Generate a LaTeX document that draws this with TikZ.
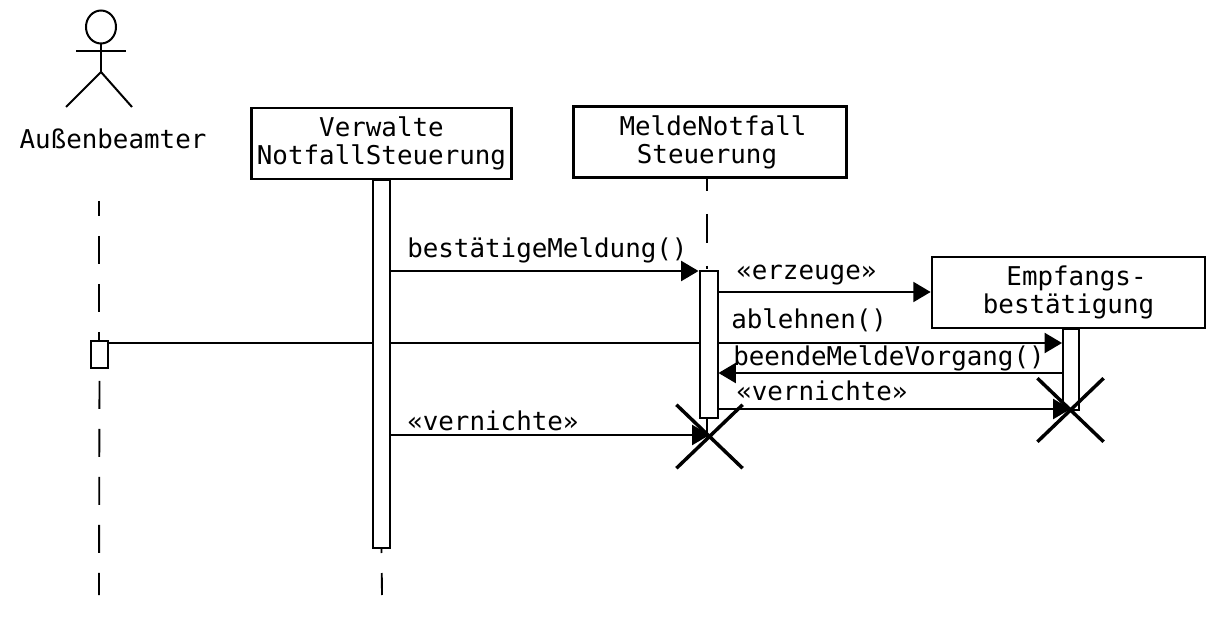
\documentclass[tikz,border=0pt]{standalone}
\usepackage{fontspec}
\setmonofont{DejaVu Sans Mono}
\usetikzlibrary{arrows.meta,shapes.misc}
\tikzset{
  objbox/.style={draw,line width=1.8pt,fill=white,align=center,inner sep=0pt,font=\ttfamily\fontsize{19.4}{21}\selectfont},
  actbar/.style={draw,line width=1.5pt,fill=white,inner sep=0pt},
  msglabel/.style={anchor=west,inner sep=0pt,font=\ttfamily\fontsize{19.4}{21}\selectfont},
  msgline/.style={line width=1.5pt,-{Triangle[length=13pt,width=15pt]}},
  plainline/.style={line width=1.2pt},
  stick/.style={line width=1.5pt},
  lifeline/.style={line width=1.4pt,dash pattern=on 21pt off 15pt},
  destroyed/.style={draw,cross out,line width=2.6pt,inner sep=0pt,minimum width=47pt,minimum height=45pt},
}
\begin{document}
\begin{tikzpicture}[x=0.75pt,y=0.75pt,yscale=-1,xscale=1]
\useasboundingbox (0,0) rectangle (1214,620);

% actor
\draw [stick] (101,27) ellipse (15 and 16.5);
\draw [stick] (76,51) -- (126,51);
\draw [stick] (101,43) -- (101,72);
\draw [stick] (66,107) -- (101,72) -- (132,107);
\node [msglabel,anchor=center] (actor) at (113,139) {Außenbeamter};

% objects
\node [objbox,minimum width=195pt,minimum height=53pt] (verwalte) at (381.5,143.5) {Verwalte\\NotfallSteuerung};
\node [objbox,minimum width=205pt,minimum height=53pt] (melde) at (710,142) {\hspace*{4.5pt}MeldeNotfall\\Steuerung\hspace*{4.5pt}};
\node [objbox,minimum width=205pt,minimum height=53pt] (empfang) at (1068.5,292.5) {\hspace*{12pt}Empfangs-\\bestätigung};

% activation bars
\node [actbar,minimum width=12.5pt,minimum height=276pt,anchor=north] (verwalteBar) at (381.5,179) {};
\node [actbar,minimum width=13.5pt,minimum height=110pt,anchor=north] (meldeBar) at (708.5,270) {};
\node [actbar,minimum width=12pt,minimum height=61pt,anchor=north] (empfangBar) at (1071,328) {};
\node [actbar,minimum width=12.5pt,minimum height=20pt] (actorBar) at (99.5,354.5) {};

% lifelines
\draw [lifeline,dash phase=9.75pt] (99,201) -- (99,340);
\draw [lifeline,dash phase=27pt] (actorBar.south) -- (99,595);
\draw [lifeline,dash phase=18pt] (verwalteBar.south) -- (382,595);
\draw [lifeline,dash pattern=on 22pt off 17pt,dash phase=12pt] (707,178) -- (707,269);
\draw [lifeline] (707,417) -- (707,437);

% destruction marks
\node [destroyed] (meldeEnd) at (709.5,436.5) {};
\node [destroyed] (empfangEnd) at (1070.5,410) {};

% messages
\draw [msgline] (verwalteBar.east |- 0,271) -- (meldeBar.west |- 0,271);
\node [msglabel] (m1) at (407,250) {bestätigeMeldung()};
\draw [msgline] (meldeBar.east |- 0,292) -- (empfang.west |- 0,292);
\node [msglabel] (m2) at (736,275) {«erzeuge»};
\draw [plainline] (actorBar.east |- 0,343) -- (verwalteBar.west |- 0,343);
\draw [plainline] (verwalteBar.east |- 0,343) -- (meldeBar.west |- 0,343);
\draw [msgline] (meldeBar.east |- 0,343) -- (empfangBar.west |- 0,343);
\node [msglabel] (m3) at (731,320) {ablehnen()};
\draw [msgline] (empfangBar.west |- 0,373) -- (meldeBar.east |- 0,373);
\node [msglabel] (m4) at (733,358) {beendeMeldeVorgang()};
\draw [msgline] (meldeBar.east |- 0,409) -- (empfangEnd.center |- 0,409);
\node [msglabel] (m5) at (736,391) {«vernichte»};
\draw [msgline] (verwalteBar.east |- 0,435) -- (meldeEnd.center |- 0,435);
\node [msglabel] (m6) at (407,421) {«vernichte»};
\end{tikzpicture}
\end{document}
